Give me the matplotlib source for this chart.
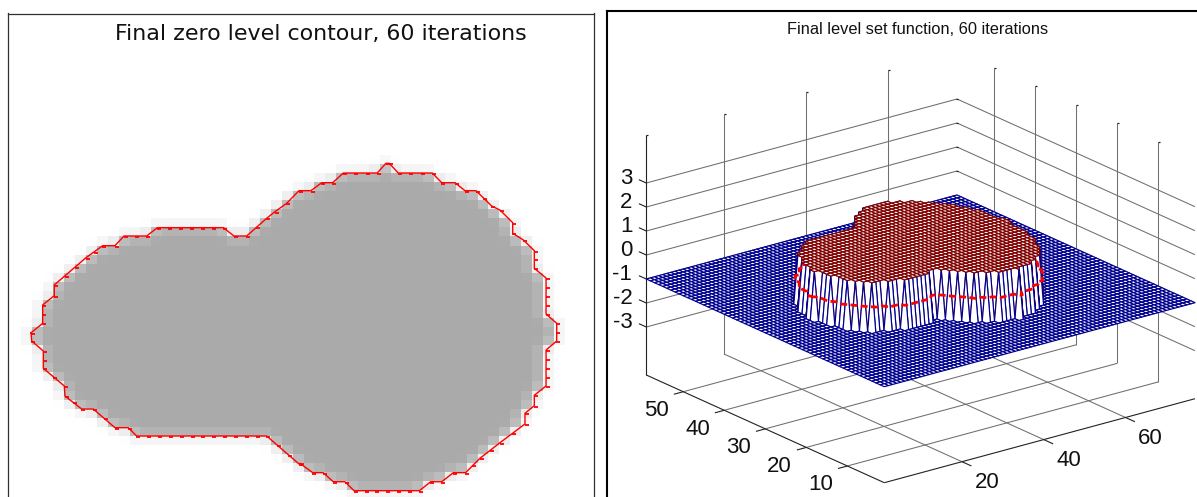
import matplotlib
matplotlib.use('Agg')
import matplotlib.pyplot as plt
from matplotlib.collections import PolyCollection, LineCollection
from matplotlib.path import Path
import numpy as np

plt.rcParams['font.family'] = ['Liberation Sans', 'DejaVu Sans']

# final contour, in cells of the image (clockwise from the left tip)
contour_u = [2.12, 3.19, 3.19, 4.26, 4.26, 7.18, 8.71, 9.84, 10.67, 12.76, 13.74, 19.81, 20.79, 21.96,
             23.8, 24.56, 25.64, 26.77, 27.87, 28.86, 29.87, 30.85, 33.97, 34.77, 35.08, 35.9, 39.03,
             39.9, 41.12, 42.04, 43.05, 44.5, 45.26, 46.43, 46.43, 47.41, 48.42, 48.42, 49.5, 49.5,
             50.48, 50.48, 49.5, 49.5, 48.42, 48.42, 47.56, 47.56, 45.26, 43.42, 42.1, 40.97, 39.9,
             38.89, 37.85, 31.83, 31.0, 29.92, 29.0, 28.03, 26.86, 26.77, 23.8, 11.84, 11.07, 9.84,
             7.85, 6.78, 5.24, 5.18, 3.25, 3.25, 2.18]
contour_v = [35.0, 33.96, 31.93, 30.9, 29.72, 26.7, 25.38, 25.38, 24.31, 24.31, 23.39, 23.39, 24.31, 24.31,
             22.35, 21.62, 20.7, 19.3, 19.3, 18.42, 18.42, 17.35, 17.35, 16.28, 16.28, 17.35, 17.35,
             18.42, 18.42, 19.3, 19.3, 21.0, 21.44, 22.84, 24.01, 24.75, 25.93, 27.88, 28.95, 32.93,
             33.96, 35.91, 36.91, 40.88, 41.91, 43.06, 43.9, 45.08, 47.15, 48.87, 50.46, 50.46, 51.46,
             51.46, 52.45, 52.45, 51.46, 51.46, 50.46, 50.46, 49.43, 49.5, 46.41, 46.41, 45.49, 45.49,
             43.43, 43.43, 41.99, 40.88, 38.93, 37.02, 35.91]

# where the image sits on the level set grid
shape_dx = 10
shape_dy = -5

grid_x = np.arange(1, 78)
grid_y = np.arange(1, 60)
inside_level = 1
outside_level = -1

x_ticks = [20, 40, 60]
y_ticks = [10, 20, 30, 40, 50]
z_ticks = [-3, -2, -1, 0, 1, 2, 3]
z_min, z_max = -5, 5

title_left = 'Final zero level contour, 60 iterations'
title_right = 'Final level set function, 60 iterations'

W, H = 1197, 497
fig = plt.figure(figsize=(W / 100, H / 100), dpi=100)

cu = np.array(contour_u + contour_u[:1])
cv = np.array(contour_v + contour_v[:1])
outline = Path(np.column_stack([cu, cv]))

# ---- left panel: image with contour
LEFT, TOP, RIGHT = 7.5, 13.5, 594
CELL_W, CELL_H = 10.87, 9.05
ax1 = fig.add_axes([LEFT / W, 0, (RIGHT - LEFT) / W, 1 - TOP / H])

# cell mask with a soft edge, image cells start at u=k+0.2, v=k+0.4
cols = np.arange(0.2, 54, 1.0)
rows = np.arange(0.4, 54, 1.0)
uu, vv = np.meshgrid(cols + 0.5, rows + 0.5)
mask = outline.contains_points(np.column_stack([uu.ravel(), vv.ravel()])).reshape(uu.shape).astype(float)
kernel = np.array([0.12, 0.76, 0.12])
soft = np.apply_along_axis(lambda r: np.convolve(r, kernel, mode='same'), 0, mask)
soft = np.apply_along_axis(lambda r: np.convolve(r, kernel, mode='same'), 1, soft)
gray = 1 - soft * (1 - 170 / 255)
ax1.imshow(gray, cmap='gray', vmin=0, vmax=1, interpolation='nearest', aspect='auto',
           extent=[cols[0], cols[-1] + 1, rows[-1] + 1, rows[0]])
ax1.set_xlim((LEFT - 8) / CELL_W, (RIGHT - 8) / CELL_W)
ax1.set_ylim((H - 16) / CELL_H, (TOP - 16) / CELL_H)

ax1.plot(cu, cv, color='#ff0000', lw=1.0)
tick_u, tick_v = [], []
for i in range(len(cu) - 1):
    n = max(1, int(round(max(abs(cu[i + 1] - cu[i]), abs(cv[i + 1] - cv[i])))))
    for k in range(n):
        tick_u.append(cu[i] + (cu[i + 1] - cu[i]) * k / n + 0.15)
        tick_v.append(cv[i] + (cv[i + 1] - cv[i]) * k / n + 0.1)
ax1.plot(tick_u, tick_v, ls='none', marker='_', ms=3, mew=1.3, color='#ff0000')

ax1.set_xticks([])
ax1.set_yticks([])
ax1.spines['bottom'].set_visible(False)
for s in ['left', 'right', 'top']:
    ax1.spines[s].set_color('#303030')
    ax1.spines[s].set_linewidth(0.9)
ax1.text((320.5 - 8) / CELL_W, (34 - 16) / CELL_H, title_left, fontsize=15.9, ha='center', va='center',
         color='#111111', family='DejaVu Sans')

# ---- right panel: level set mesh, axes limits are in screen pixels
LEFT2, TOP2 = 606.7, 10.7
ax2 = fig.add_axes([LEFT2 / W, 0, 1.01 - LEFT2 / W, 1 - TOP2 / H])
ax2.set_xlim(LEFT2, LEFT2 + (1.01 - LEFT2 / W) * W)
ax2.set_ylim(H, TOP2)
ax2.set_xticks([])
ax2.set_yticks([])
ax2.spines['bottom'].set_visible(False)
ax2.spines['right'].set_visible(False)
ax2.spines['left'].set_linewidth(1.5)
ax2.spines['top'].set_linewidth(1.5)


def project(x, y, z):
    # fixed orthographic view, like view(3) on the matlab figure
    x, y, z = np.asarray(x, float), np.asarray(y, float), np.asarray(z, float)
    sx = 884.3 + (x - 1) * 310.7 / 76 - (y - 1) * 238.0 / 58
    sy = 482.7 - (x - 1) * 84.0 / 76 - (y - 1) * 107.7 / 58 - (z - z_min) * 24.0
    return sx, sy


x0, x1 = grid_x[0], grid_x[-1]
y0, y1 = grid_y[0], grid_y[-1]


def seg(a, b):
    sx, sy = project([a[0], b[0]], [a[1], b[1]], [a[2], b[2]])
    return [(sx[0], sy[0]), (sx[1], sy[1])]


grid_segs = []
for t in x_ticks:
    grid_segs.append(seg((t, y0, z_min), (t, y1, z_min)))
    grid_segs.append(seg((t, y1, z_min), (t, y1, z_max)))
for t in y_ticks:
    grid_segs.append(seg((x0, t, z_min), (x1, t, z_min)))
    grid_segs.append(seg((x1, t, z_min), (x1, t, z_max)))
for t in z_ticks:
    grid_segs.append(seg((x0, y1, t), (x1, y1, t)))
    grid_segs.append(seg((x1, y1, t), (x1, y0, t)))
ax2.add_collection(LineCollection(grid_segs, colors='#6e6e6e', linewidths=0.75, zorder=1))

tick_segs = []
for t in x_ticks:
    tick_segs.append(seg((t, y0, z_min), (t, y0 - 2.3, z_min)))
for t in y_ticks:
    tick_segs.append(seg((x0, t, z_min), (x0 - 2.3, t, z_min)))
for t in z_ticks:
    tick_segs.append(seg((x0, y1, t), (x0, y1 + 1.8, t)))
tick_segs.append(seg((x0, y0, z_min), (x0, y1, z_min)))
tick_segs.append(seg((x0, y0, z_min), (x1, y0, z_min)))
tick_segs.append(seg((x0, y1, z_min), (x0, y1, z_max)))
ax2.add_collection(LineCollection(tick_segs, colors='#222222', linewidths=0.8, zorder=1.5))

# little dashes on top of the wall lines
top_x = [x0] + x_ticks + [x1] * len(y_ticks)
top_y = [y1] * (len(x_ticks) + 1) + y_ticks
tx, ty = project(top_x, top_y, [z_max] * len(top_x))
ax2.plot(tx + 1, ty, ls='none', marker='_', ms=2, mew=0.9, color='#222222', zorder=1.5)
cx, cy = project([x1] * 4, [y1] * 4, [0, 1, 2, 3])
ax2.plot(cx, cy, ls='none', marker='_', ms=2, mew=0.9, color='#222222', zorder=1.5)

# level set: +1 inside the contour, -1 outside
xx, yy = np.meshgrid(grid_x, grid_y)
node_in = outline.contains_points(np.column_stack([(xx - shape_dx).ravel(), (yy - shape_dy).ravel()])).reshape(xx.shape)
zz = np.where(node_in, inside_level, outside_level)
sx, sy = project(xx, yy, zz)

low_polys, low_depth, low_cols, top_polys, top_depth = [], [], [], [], []
for j in range(len(grid_y) - 1):
    for i in range(len(grid_x) - 1):
        poly = [(sx[j, i], sy[j, i]), (sx[j, i + 1], sy[j, i + 1]),
                (sx[j + 1, i + 1], sy[j + 1, i + 1]), (sx[j + 1, i], sy[j + 1, i])]
        depth = grid_x[i] + grid_y[j]
        n_in = int(node_in[j, i]) + int(node_in[j, i + 1]) + int(node_in[j + 1, i]) + int(node_in[j + 1, i + 1])
        if n_in == 4:
            top_polys.append(poly)
            top_depth.append(depth)
        else:
            low_polys.append(poly)
            low_depth.append(depth)
            low_cols.append('#800000' if n_in == 3 else '#00008f')

order = np.argsort(low_depth)[::-1]
ax2.add_collection(PolyCollection([low_polys[k] for k in order], facecolors='white',
                                  edgecolors=[low_cols[k] for k in order], linewidths=0.85, zorder=2))
rx, ry = project(cu + shape_dx, cv + shape_dy, np.zeros(len(cu)))
ax2.plot(rx, ry, color='#ff0000', lw=2.0, ls=(0, (2.5, 1.2)), zorder=3)
order = np.argsort(top_depth)[::-1]
ax2.add_collection(PolyCollection([top_polys[k] for k in order], facecolors='white', edgecolors='#800000',
                                  linewidths=0.85, zorder=4))

ax2.text(918, 30, title_right, fontsize=11.8, ha='center', va='center', color='#111111')
for t in z_ticks:
    lx, ly = project(x0, y1, t)
    ax2.text(lx - 14, ly - 5, str(t), fontsize=16, ha='right', va='center', color='#111111')
for t in y_ticks:
    lx, ly = project(x0, t, z_min)
    ax2.text(lx - 26.7, ly + 19, str(t), fontsize=16, ha='center', va='center', color='#111111')
for t in x_ticks:
    lx, ly = project(t, y0, z_min)
    ax2.text(lx + 25, ly + 21, str(t), fontsize=16, ha='center', va='center', color='#111111')

fig.savefig('out.png', dpi=100)
